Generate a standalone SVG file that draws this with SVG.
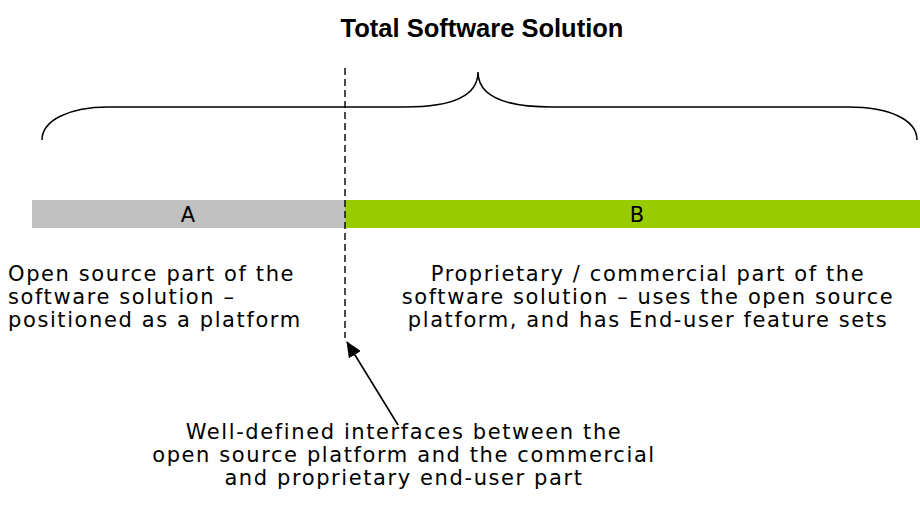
<svg xmlns="http://www.w3.org/2000/svg" width="920" height="510" viewBox="0 0 920 510">
<style>
.t{font-family:"DejaVu Sans","Verdana",sans-serif;font-size:21px;letter-spacing:1.6px;fill:#000}
.title{font-family:"Liberation Sans",Arial,sans-serif;font-size:25.5px;font-weight:bold;fill:#000}
.lbl{font-family:"DejaVu Sans",sans-serif;font-size:21px;fill:#000}
</style>
<defs>
<marker id="ah" markerWidth="16" markerHeight="14" refX="15" refY="7" orient="auto" markerUnits="userSpaceOnUse" viewBox="0 0 16 14">
<path d="M0,0 L16,7 L0,14 z" fill="#000"/>
</marker>
</defs>
<rect width="920" height="510" fill="#fff"/>
<text class="title" x="482" y="37" text-anchor="middle">Total Software Solution</text>
<g id="brace">
<path d="M42,140 C42,120 70,107 108,107 L405,107 C455,107 478,95 478,72 C478,95 501,107 552,107 L848,107 C890,107 917,120 917,140" fill="none" stroke="#000" stroke-width="1.5"/>
</g>
<g id="nodeA">
<rect x="32" y="200" width="313" height="28" fill="#c0c0c0"/>
<text class="lbl" x="188" y="222" text-anchor="middle">A</text>
</g>
<g id="nodeB">
<rect x="345" y="200" width="575" height="28" fill="#99cc00"/>
<text class="lbl" x="637" y="222" text-anchor="middle">B</text>
</g>
<g id="textA">
<text class="t" x="8" y="281">Open source part of the</text>
<text class="t" x="8" y="304">software solution –</text>
<text class="t" x="8" y="327">positioned as a platform</text>
</g>
<g id="textB">
<text class="t" x="648" y="281" text-anchor="middle">Proprietary / commercial part of the</text>
<text class="t" x="648" y="304" text-anchor="middle">software solution – uses the open source</text>
<text class="t" x="648" y="327" text-anchor="middle">platform, and has End-user feature sets</text>
</g>
<g id="textInterface">
<text class="t" x="404" y="439" text-anchor="middle">Well-defined interfaces between the</text>
<text class="t" x="404" y="462" text-anchor="middle">open source platform and the commercial</text>
<text class="t" x="404" y="485" text-anchor="middle">and proprietary end-user part</text>
</g>
<g id="connectors">
<line x1="345" y1="68" x2="345" y2="338" stroke="#000" stroke-width="1.4" stroke-dasharray="7,4"/>
<line x1="398" y1="425" x2="347" y2="342" stroke="#000" stroke-width="1.6" marker-end="url(#ah)"/>
</g>
</svg>
